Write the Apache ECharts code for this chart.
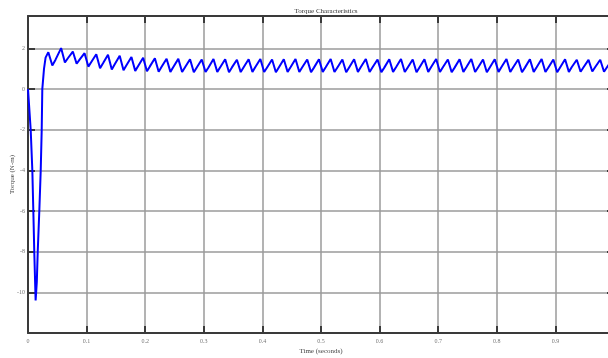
<!DOCTYPE html>
<html><head><meta charset="utf-8">
<script src="https://cdn.jsdelivr.net/npm/echarts@6/dist/echarts.min.js"></script>
<style>html,body{margin:0;padding:0;background:#fff}#c{width:608px;height:358px}</style>
</head><body><div id="c"></div>
<script>
const titleText = 'Torque Characteristics';
const xName = 'Time (seconds)';
const yName = 'Torque (N-m)';
const xTickLabels = ['0','0.1','0.2','0.3','0.4','0.5','0.6','0.7','0.8','0.9','1'];
const yTickLabels = ['-10','-8','-6','-4','-2','0','2'];

const time = [
 0, 0.0046, 0.0074, 0.0091, 0.0107, 0.0130, 0.0150, 0.0166, 0.0193, 0.0217, 0.0234, 0.0244, 0.0273, 0.0300, 0.0347, 0.0415, 0.0470, 0.0500,
 0.0565, 0.063, 0.068, 0.0705,
 0.0765, 0.083, 0.088, 0.0905,
 0.0965, 0.103, 0.108, 0.1105,
 0.1165, 0.123, 0.128, 0.1305,
 0.1365, 0.143, 0.148, 0.1505,
 0.1565, 0.163, 0.168, 0.1705,
 0.1765, 0.183, 0.188, 0.1905,
 0.1965, 0.203, 0.208, 0.2105,
 0.2165, 0.223, 0.228, 0.2305,
 0.2365, 0.243, 0.248, 0.2505,
 0.2565, 0.263, 0.268, 0.2705,
 0.2765, 0.283, 0.288, 0.2905,
 0.2965, 0.303, 0.308, 0.3105,
 0.3165, 0.323, 0.328, 0.3305,
 0.3365, 0.343, 0.348, 0.3505,
 0.3565, 0.363, 0.368, 0.3705,
 0.3765, 0.383, 0.388, 0.3905,
 0.3965, 0.403, 0.408, 0.4105,
 0.4165, 0.423, 0.428, 0.4305,
 0.4365, 0.443, 0.448, 0.4505,
 0.4565, 0.463, 0.468, 0.4705,
 0.4765, 0.483, 0.488, 0.4905,
 0.4965, 0.503, 0.508, 0.5105,
 0.5165, 0.523, 0.528, 0.5305,
 0.5365, 0.543, 0.548, 0.5505,
 0.5565, 0.563, 0.568, 0.5705,
 0.5765, 0.583, 0.588, 0.5905,
 0.5965, 0.603, 0.608, 0.6105,
 0.6165, 0.623, 0.628, 0.6305,
 0.6365, 0.643, 0.648, 0.6505,
 0.6565, 0.663, 0.668, 0.6705,
 0.6765, 0.683, 0.688, 0.6905,
 0.6965, 0.703, 0.708, 0.7105,
 0.7165, 0.723, 0.728, 0.7305,
 0.7365, 0.743, 0.748, 0.7505,
 0.7565, 0.763, 0.768, 0.7705,
 0.7765, 0.783, 0.788, 0.7905,
 0.7965, 0.803, 0.808, 0.8105,
 0.8165, 0.823, 0.828, 0.8305,
 0.8365, 0.843, 0.848, 0.8505,
 0.8565, 0.863, 0.868, 0.8705,
 0.8765, 0.883, 0.888, 0.8905,
 0.8965, 0.903, 0.908, 0.9105,
 0.9165, 0.923, 0.928, 0.9305,
 0.9365, 0.943, 0.948, 0.9505,
 0.9565, 0.963, 0.968, 0.9705,
 0.9765, 0.983, 0.988, 0.9905,
 0.9965, 1.0
];

const torque = [
 0, -2, -4, -6, -8, -10.4, -9.5, -8, -6, -4, -2, 0, 1.0, 1.55, 1.82, 1.16, 1.45, 1.50,
 2.02, 1.31, 1.52, 1.55,
 1.85, 1.25, 1.45, 1.47,
 1.77, 1.11, 1.34, 1.36,
 1.72, 1.03, 1.27, 1.29,
 1.69, 0.97, 1.22, 1.24,
 1.64, 0.93, 1.18, 1.20,
 1.58, 0.90, 1.14, 1.16,
 1.55, 0.88, 1.12, 1.14,
 1.52, 0.86, 1.10, 1.12,
 1.50, 0.85, 1.09, 1.11,
 1.49, 0.84, 1.08, 1.10,
 1.47, 0.83, 1.07, 1.09,
 1.46, 0.84, 1.07, 1.10,
 1.48, 0.85, 1.08, 1.10,
 1.47, 0.83, 1.07, 1.09,
 1.45, 0.84, 1.08, 1.10,
 1.47, 0.85, 1.09, 1.11,
 1.48, 0.84, 1.07, 1.09,
 1.46, 0.83, 1.07, 1.09,
 1.47, 0.85, 1.08, 1.10,
 1.48, 0.84, 1.08, 1.10,
 1.46, 0.83, 1.06, 1.09,
 1.47, 0.85, 1.08, 1.10,
 1.48, 0.84, 1.07, 1.10,
 1.46, 0.83, 1.07, 1.09,
 1.47, 0.85, 1.09, 1.11,
 1.48, 0.84, 1.08, 1.10,
 1.46, 0.83, 1.06, 1.09,
 1.47, 0.85, 1.08, 1.10,
 1.48, 0.84, 1.07, 1.10,
 1.46, 0.83, 1.07, 1.09,
 1.47, 0.85, 1.09, 1.11,
 1.48, 0.84, 1.08, 1.10,
 1.46, 0.83, 1.06, 1.09,
 1.47, 0.85, 1.08, 1.10,
 1.48, 0.84, 1.07, 1.10,
 1.46, 0.83, 1.07, 1.09,
 1.47, 0.85, 1.09, 1.11,
 1.48, 0.84, 1.08, 1.10,
 1.46, 0.83, 1.06, 1.09,
 1.47, 0.85, 1.08, 1.10,
 1.48, 0.84, 1.07, 1.10,
 1.46, 0.83, 1.07, 1.09,
 1.47, 0.85, 1.09, 1.11,
 1.45, 0.86, 1.08, 1.10,
 1.44, 0.87, 1.09, 1.11,
 1.45, 0.86, 1.08, 1.10,
 1.44, 1.05
];

const chart = echarts.init(document.getElementById('c'), null, {renderer: 'canvas'});
const font = 'Liberation Serif';
const gridColor = '#9a9a9a';
const axisColor = '#3a3a3a';
const xfmt = v => { const i = Math.round(v * 10); return Math.abs(v * 10 - i) < 1e-6 ? (xTickLabels[i] || '') : ''; };
const yfmt = v => { const s = String(Math.round(v)); return (Math.abs(v - Math.round(v)) < 1e-6 && yTickLabels.indexOf(s) >= 0) ? s : ''; };

const baseX = {
  type: 'value', min: 0, max: 1, interval: 0.1,
  axisLine: {show: true, onZero: false, lineStyle: {color: axisColor, width: 2}},
  axisTick: {show: true, inside: true, length: 7, lineStyle: {color: axisColor, width: 2}},
  splitLine: {show: true, lineStyle: {color: gridColor, width: 1.5}},
};
const baseY = {
  type: 'value', min: -12, max: 3.6, interval: 2,
  axisLine: {show: true, onZero: false, lineStyle: {color: axisColor, width: 2}},
  axisTick: {show: true, inside: true, length: 7, lineStyle: {color: axisColor, width: 2}},
  splitLine: {show: true, lineStyle: {color: gridColor, width: 1.5}},
};

chart.setOption({
  animation: false,
  backgroundColor: '#fff',
  title: {
    text: titleText, left: 321, top: 3, textAlign: 'center',
    textStyle: {fontFamily: font, fontSize: 7, fontWeight: 'normal', color: '#333'}
  },
  grid: {left: 28, right: -6, top: 16, bottom: 25, show: false, containLabel: false, outerBoundsMode: 'none'},
  xAxis: [
    Object.assign({}, baseX, {
      position: 'bottom',
      name: xName, nameLocation: 'middle', nameGap: 15, nameMoveOverlap: false,
      nameTextStyle: {fontFamily: font, fontSize: 7, color: '#444'},
      axisLabel: {formatter: xfmt, fontFamily: font, fontSize: 6, color: '#777', margin: 5, hideOverlap: false}
    }),
    Object.assign({}, baseX, {position: 'top', axisLabel: {show: false}, splitLine: {show: false}})
  ],
  yAxis: [
    Object.assign({}, baseY, {
      position: 'left',
      name: yName, nameLocation: 'middle', nameGap: 12, nameRotate: 90, nameMoveOverlap: false,
      nameTextStyle: {fontFamily: font, fontSize: 7, color: '#444'},
      axisLabel: {formatter: yfmt, fontFamily: font, fontSize: 6, color: '#777', margin: 3}
    }),
    Object.assign({}, baseY, {position: 'right', axisLabel: {show: false}, splitLine: {show: false}})
  ],
  series: [{
    type: 'line', xAxisIndex: 0, yAxisIndex: 0, showSymbol: false,
    data: time.map((t, i) => [t, torque[i]]),
    lineStyle: {color: '#0000ff', width: 2}, clip: true
  }]
});
</script></body></html>
